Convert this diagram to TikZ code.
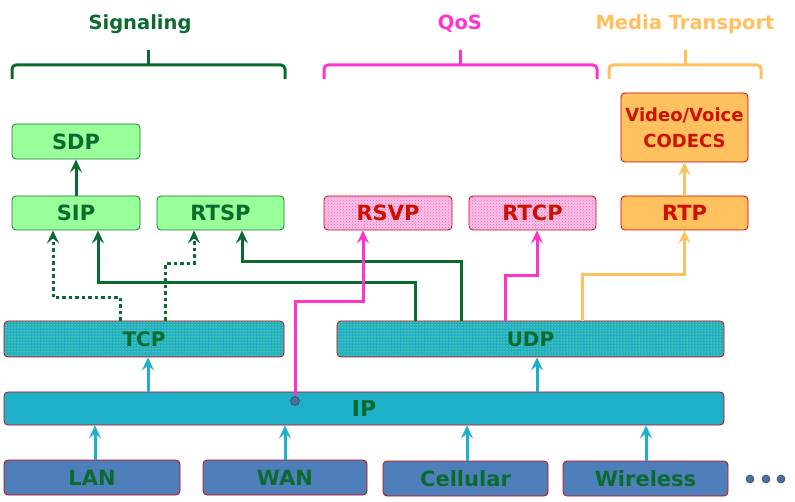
\documentclass[tikz,border=0pt]{standalone}
\usepackage{fontspec}
\setmainfont{DejaVu Sans}
\usetikzlibrary{arrows.meta,patterns,calc}
\definecolor{dgreen}{HTML}{0B6B2F}
\definecolor{lgreen}{HTML}{99FF99}
\definecolor{gborder}{HTML}{1A7A3A}
\definecolor{magen}{HTML}{FF33CC}
\definecolor{orng}{HTML}{FFC05E}
\definecolor{redtxt}{HTML}{CC1100}
\definecolor{redbd}{HTML}{CC0000}
\definecolor{cyn}{HTML}{1FB0C9}
\definecolor{blu}{HTML}{4F7FBB}
\definecolor{pinkbg}{HTML}{F6C2E2}
\definecolor{dotblue}{HTML}{4A6F9A}
\tikzset{
  box/.style={rounded corners=4pt, inner sep=0pt, line width=0.8pt, font=\bfseries\fontsize{21}{24}\selectfont},
  gbox/.style={box, fill=lgreen, draw=gborder, text=dgreen},
  qbox/.style={box, fill=pinkbg, draw=redbd, text=redtxt, postaction={pattern=crosshatch dots, pattern color=magen!80}},
  obox/.style={box, fill=orng, draw=redbd, text=redtxt},
  tbox/.style={box, fill=cyn, draw=redbd, text=dgreen, font=\bfseries\fontsize{20}{24}\selectfont, postaction={pattern=dots, pattern color=yellow!80!white}},
  ibox/.style={box, fill=cyn, draw=redbd, text=dgreen, font=\bfseries\fontsize{22}{26}\selectfont},
  nbox/.style={box, fill=blu, draw=redbd, text=dgreen, font=\bfseries\fontsize{21}{26}\selectfont},
  tip/.style={-{Stealth[length=13pt,width=12pt,inset=5pt]}},
  garrow/.style={tip, draw=dgreen, line width=3pt},
  gdot/.style={tip, draw=dgreen, line width=3pt, dash pattern=on 3.5pt off 3pt},
  parrow/.style={tip, draw=magen, line width=3pt},
  oarrow/.style={tip, draw=orng, line width=3pt},
  carrow/.style={tip, draw=cyn, line width=3pt},
  title/.style={font=\bfseries\fontsize{19.5}{24}\selectfont},
  brace/.style={line width=3pt, rounded corners=4pt},
  blob/.style={circle, fill=dotblue, draw=dotblue!70!black, line width=0.6pt, minimum size=8pt, inner sep=0pt},
}
\begin{document}
\begin{tikzpicture}[x=1pt,y=-1pt]
\useasboundingbox (0,0) rectangle (795,502);
% titles and brackets
\node[title, text=dgreen] (tsig) at (140,24) {Signaling};
\node[title, text=magen] (tqos) at (460,24) {QoS};
\node[title, text=orng] (tmed) at (685,24) {Media Transport};
\draw[brace, draw=dgreen] (12,79) |- (285,65) -- (285,79);
\draw[line width=3pt, draw=dgreen] (148,65) -- (148,50);
\draw[brace, draw=magen] (324,79) |- (597,65) -- (597,79);
\draw[line width=3pt, draw=magen] (460,65) -- (460,50);
\draw[brace, draw=orng] (609,79) |- (761,65) -- (761,79);
\draw[line width=3pt, draw=orng] (685,65) -- (685,50);
% upper boxes
\node[gbox, minimum width=128pt, minimum height=35pt] (sdp) at (76,141.5) {SDP};
\node[gbox, minimum width=128pt, minimum height=34pt] (sip) at (76,213) {SIP};
\node[gbox, minimum width=127pt, minimum height=34pt] (rtsp) at (220.5,213) {RTSP};
\node[qbox, minimum width=128pt, minimum height=34pt] (rsvp) at (388,213) {RSVP};
\node[qbox, minimum width=127pt, minimum height=34pt] (rtcp) at (532.5,213) {RTCP};
\node[obox, minimum width=127pt, minimum height=34pt] (rtp) at (684.5,213) {RTP};
\node[obox, minimum width=127pt, minimum height=69pt, align=center, font=\bfseries\fontsize{18}{26}\selectfont] (codecs) at (684.5,127.5) {Video/Voice\\CODECS};
% transport
\node[tbox, minimum width=280pt, minimum height=36pt] (tcp) at (144,339) {TCP};
\node[tbox, minimum width=387pt, minimum height=36pt] (udp) at (530.5,339) {UDP};
\node[ibox, minimum width=720pt, minimum height=33pt] (ip) at (364,408.5) {IP};
% networks
\node[nbox, minimum width=176pt, minimum height=35pt] (lan) at (92,477.5) {LAN};
\node[nbox, minimum width=164pt, minimum height=35pt] (wan) at (285,477.5) {WAN};
\node[nbox, minimum width=165pt, minimum height=35pt] (cell) at (465.5,478.5) {Cellular};
\node[nbox, minimum width=165pt, minimum height=35pt] (wire) at (645.5,478.5) {Wireless};
\node[blob] (d1) at (750,479) {};
\node[blob] (d2) at (766,479) {};
\node[blob] (d3) at (781,479) {};
% ip dot
\node[blob, minimum size=9pt] (ipdot) at (295,401) {};
% connectors
\draw[garrow] (sip) -- (sdp);
\draw[oarrow] (rtp) -- (codecs);
\draw[gdot] ([xshift=117pt]tcp.north west) -- ++(0,-23) -| ([xshift=-23pt]sip.south);
\draw[gdot] ([xshift=162pt]tcp.north west) -- ++(0,-57) -| ([xshift=-26.5pt]rtsp.south);
\draw[garrow] ([xshift=79pt]udp.north west) -- ++(0,-38) -| ([xshift=22pt]sip.south);
\draw[garrow] ([xshift=125pt]udp.north west) -- ++(0,-59) -| ([xshift=21.5pt]rtsp.south);
\draw[parrow] (ipdot.north) -- ++(0,-94.5) -| ([xshift=-25pt]rsvp.south);
\draw[parrow] ([xshift=169pt]udp.north west) -- ++(0,-45) -| ([xshift=4.5pt]rtcp.south);
\draw[oarrow] ([xshift=246pt]udp.north west) -- ++(0,-46) -| (rtp.south);
\draw[carrow] ([xshift=4pt]tcp.south |- ip.north) -- ([xshift=4pt]tcp.south);
\draw[carrow] ([xshift=6.5pt]udp.south |- ip.north) -- ([xshift=6.5pt]udp.south);
\draw[carrow] ([xshift=3pt]lan.north) -- ([xshift=3pt]lan.north |- ip.south);
\draw[carrow] (wan.north) -- (wan.north |- ip.south);
\draw[carrow] ([xshift=1.5pt]cell.north) -- ([xshift=1.5pt]cell.north |- ip.south);
\draw[carrow] ([xshift=0.5pt]wire.north) -- ([xshift=0.5pt]wire.north |- ip.south);
\end{tikzpicture}
\end{document}
